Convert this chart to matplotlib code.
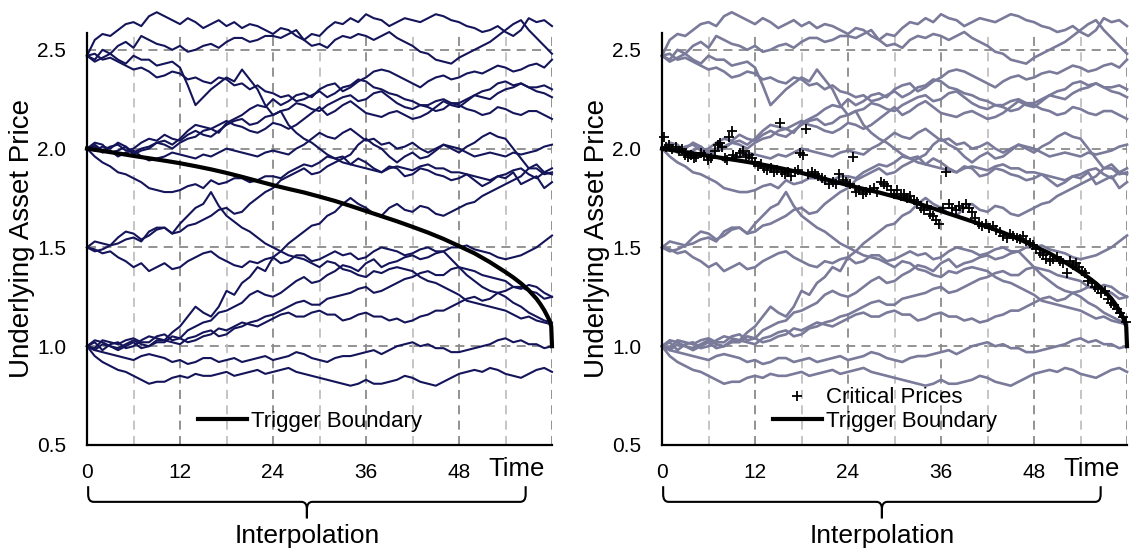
import matplotlib
matplotlib.use("Agg")
import matplotlib.pyplot as plt
import numpy as np
from matplotlib.path import Path
from matplotlib.patches import PathPatch

plt.rcParams['font.family'] = ['Liberation Sans', 'DejaVu Sans']

# ---------------- data (monthly values, t = 0..60) ----------------
P1 = [2.47, 2.55, 2.58, 2.57, 2.60, 2.63, 2.64, 2.62, 2.67, 2.69, 2.67, 2.65, 2.63, 2.66, 2.64, 2.61, 2.63, 2.65, 2.62, 2.64, 2.61, 2.63, 2.62, 2.60, 2.58, 2.61, 2.60, 2.57, 2.55, 2.58, 2.57, 2.61, 2.64, 2.63, 2.66, 2.64, 2.68, 2.66, 2.65, 2.62, 2.64, 2.66, 2.65, 2.64, 2.66, 2.68, 2.67, 2.65, 2.64, 2.62, 2.61, 2.59, 2.60, 2.62, 2.59, 2.57, 2.60, 2.66, 2.64, 2.65, 2.62]
P2 = [2.47, 2.45, 2.50, 2.48, 2.52, 2.54, 2.51, 2.57, 2.55, 2.53, 2.52, 2.50, 2.52, 2.49, 2.50, 2.52, 2.53, 2.51, 2.54, 2.56, 2.56, 2.54, 2.55, 2.57, 2.57, 2.56, 2.58, 2.60, 2.55, 2.52, 2.53, 2.51, 2.55, 2.57, 2.56, 2.58, 2.57, 2.55, 2.57, 2.59, 2.56, 2.54, 2.52, 2.49, 2.48, 2.45, 2.44, 2.43, 2.46, 2.48, 2.50, 2.52, 2.54, 2.57, 2.60, 2.63, 2.65, 2.60, 2.56, 2.52, 2.48]
P3 = [2.47, 2.44, 2.46, 2.48, 2.45, 2.43, 2.47, 2.45, 2.45, 2.42, 2.43, 2.44, 2.41, 2.32, 2.22, 2.26, 2.30, 2.33, 2.36, 2.34, 2.40, 2.35, 2.30, 2.22, 2.17, 2.19, 2.12, 2.08, 2.05, 2.03, 2.00, 1.97, 1.95, 1.96, 1.92, 1.95, 1.93, 1.90, 1.88, 1.91, 1.90, 1.86, 1.87, 1.90, 1.89, 1.87, 1.86, 1.84, 1.85, 1.87, 1.84, 1.81, 1.83, 1.86, 1.85, 1.88, 1.82, 1.84, 1.86, 1.80, 1.83]
P4 = [2.47, 2.48, 2.45, 2.46, 2.44, 2.42, 2.40, 2.41, 2.39, 2.36, 2.37, 2.39, 2.38, 2.35, 2.36, 2.34, 2.33, 2.36, 2.35, 2.32, 2.33, 2.30, 2.32, 2.29, 2.28, 2.26, 2.27, 2.24, 2.25, 2.27, 2.29, 2.26, 2.28, 2.31, 2.32, 2.35, 2.34, 2.31, 2.30, 2.28, 2.27, 2.25, 2.24, 2.22, 2.21, 2.19, 2.20, 2.23, 2.22, 2.20, 2.19, 2.17, 2.18, 2.21, 2.20, 2.18, 2.17, 2.19, 2.19, 2.17, 2.15]
P5 = [2.00, 2.03, 2.02, 1.98, 1.99, 2.01, 1.97, 1.99, 2.00, 2.03, 2.02, 2.00, 2.03, 2.05, 2.06, 2.09, 2.10, 2.08, 2.13, 2.15, 2.17, 2.20, 2.22, 2.21, 2.25, 2.22, 2.24, 2.27, 2.28, 2.26, 2.30, 2.32, 2.33, 2.29, 2.31, 2.34, 2.36, 2.39, 2.40, 2.39, 2.37, 2.35, 2.33, 2.31, 2.34, 2.36, 2.37, 2.35, 2.36, 2.38, 2.39, 2.38, 2.40, 2.42, 2.41, 2.39, 2.40, 2.42, 2.43, 2.41, 2.45]
P6 = [2.00, 1.99, 2.01, 2.00, 2.03, 2.01, 1.98, 2.00, 2.01, 2.03, 2.04, 2.02, 2.05, 2.09, 2.12, 2.11, 2.10, 2.12, 2.14, 2.12, 2.11, 2.09, 2.08, 2.10, 2.13, 2.12, 2.10, 2.12, 2.15, 2.18, 2.21, 2.17, 2.19, 2.22, 2.24, 2.21, 2.18, 2.17, 2.16, 2.18, 2.19, 2.17, 2.15, 2.16, 2.18, 2.21, 2.24, 2.22, 2.21, 2.24, 2.27, 2.26, 2.25, 2.28, 2.30, 2.31, 2.33, 2.31, 2.29, 2.28, 2.26]
P7 = [2.00, 2.01, 1.98, 1.99, 1.96, 1.98, 1.99, 1.96, 1.94, 1.95, 1.96, 1.98, 1.97, 1.96, 1.95, 1.97, 1.96, 1.98, 2.00, 1.99, 1.98, 1.97, 1.96, 1.98, 1.99, 1.98, 1.97, 2.00, 2.02, 2.05, 2.08, 2.06, 2.05, 2.08, 2.10, 2.07, 2.04, 2.05, 2.02, 2.03, 2.00, 2.01, 2.03, 2.00, 1.98, 2.00, 2.02, 2.01, 2.00, 1.98, 1.96, 1.97, 1.98, 1.97, 1.96, 1.98, 1.97, 1.98, 1.99, 2.01, 2.02]
P8 = [2.00, 1.96, 1.93, 1.91, 1.88, 1.87, 1.85, 1.83, 1.80, 1.79, 1.78, 1.78, 1.79, 1.81, 1.82, 1.80, 1.84, 1.82, 1.83, 1.85, 1.85, 1.83, 1.84, 1.86, 1.86, 1.85, 1.88, 1.90, 1.92, 1.91, 1.93, 1.96, 1.95, 1.93, 1.92, 1.91, 1.90, 1.89, 1.88, 1.90, 1.91, 1.90, 1.89, 1.91, 1.92, 1.90, 1.90, 1.88, 1.88, 1.87, 1.86, 1.85, 1.84, 1.86, 1.87, 1.89, 1.90, 1.87, 1.85, 1.88, 1.87]
P9 = [2.00, 2.02, 1.99, 2.01, 2.02, 1.99, 2.00, 2.03, 2.05, 2.04, 2.07, 2.05, 2.04, 2.07, 2.09, 2.07, 2.06, 2.09, 2.12, 2.14, 2.15, 2.12, 2.13, 2.16, 2.17, 2.19, 2.20, 2.23, 2.22, 2.20, 2.19, 2.22, 2.24, 2.26, 2.27, 2.24, 2.25, 2.28, 2.29, 2.26, 2.23, 2.21, 2.20, 2.22, 2.22, 2.24, 2.25, 2.23, 2.23, 2.25, 2.27, 2.29, 2.30, 2.33, 2.34, 2.32, 2.33, 2.31, 2.31, 2.32, 2.30]
P10 = [1.50, 1.48, 1.49, 1.51, 1.52, 1.54, 1.55, 1.53, 1.58, 1.60, 1.60, 1.57, 1.62, 1.66, 1.70, 1.72, 1.78, 1.71, 1.66, 1.63, 1.60, 1.58, 1.55, 1.52, 1.50, 1.48, 1.46, 1.45, 1.44, 1.42, 1.40, 1.43, 1.42, 1.39, 1.38, 1.36, 1.35, 1.38, 1.37, 1.39, 1.40, 1.39, 1.38, 1.35, 1.33, 1.32, 1.30, 1.28, 1.26, 1.23, 1.22, 1.21, 1.20, 1.19, 1.18, 1.16, 1.14, 1.15, 1.13, 1.12, 1.11]
P11 = [1.50, 1.53, 1.52, 1.51, 1.55, 1.58, 1.57, 1.54, 1.56, 1.59, 1.60, 1.57, 1.58, 1.61, 1.62, 1.64, 1.66, 1.69, 1.70, 1.67, 1.68, 1.72, 1.75, 1.78, 1.80, 1.84, 1.86, 1.88, 1.90, 1.87, 1.88, 1.91, 1.93, 1.95, 1.97, 2.02, 2.05, 2.02, 2.00, 1.96, 1.93, 1.96, 1.98, 1.95, 1.96, 1.99, 2.02, 2.00, 1.98, 2.01, 2.03, 2.06, 2.08, 2.06, 2.05, 2.00, 1.95, 1.90, 1.90, 1.87, 1.88]
P12 = [1.50, 1.49, 1.47, 1.48, 1.45, 1.43, 1.40, 1.42, 1.38, 1.40, 1.42, 1.39, 1.40, 1.43, 1.45, 1.47, 1.48, 1.45, 1.43, 1.41, 1.40, 1.43, 1.42, 1.44, 1.45, 1.42, 1.43, 1.46, 1.46, 1.43, 1.44, 1.46, 1.48, 1.46, 1.47, 1.44, 1.45, 1.48, 1.50, 1.49, 1.48, 1.46, 1.47, 1.49, 1.50, 1.48, 1.48, 1.50, 1.50, 1.51, 1.49, 1.48, 1.47, 1.45, 1.44, 1.45, 1.46, 1.48, 1.50, 1.53, 1.56]
P13 = [1.00, 1.02, 0.98, 1.01, 1.02, 0.99, 1.00, 1.03, 1.05, 1.04, 1.03, 1.07, 1.10, 1.15, 1.20, 1.17, 1.15, 1.20, 1.28, 1.26, 1.32, 1.35, 1.40, 1.38, 1.45, 1.48, 1.52, 1.55, 1.58, 1.61, 1.62, 1.66, 1.68, 1.72, 1.75, 1.72, 1.70, 1.67, 1.66, 1.70, 1.72, 1.69, 1.68, 1.71, 1.70, 1.67, 1.66, 1.68, 1.70, 1.72, 1.73, 1.76, 1.78, 1.80, 1.82, 1.84, 1.86, 1.90, 1.92, 1.88, 1.90]
P14 = [1.00, 1.03, 1.02, 1.00, 0.99, 1.01, 1.03, 1.01, 1.00, 1.02, 1.02, 1.05, 1.04, 1.02, 1.03, 1.05, 1.06, 1.09, 1.08, 1.10, 1.12, 1.11, 1.10, 1.12, 1.14, 1.16, 1.17, 1.15, 1.15, 1.17, 1.18, 1.16, 1.16, 1.13, 1.14, 1.16, 1.17, 1.15, 1.15, 1.13, 1.14, 1.12, 1.13, 1.15, 1.16, 1.18, 1.18, 1.20, 1.22, 1.24, 1.25, 1.23, 1.24, 1.27, 1.28, 1.30, 1.30, 1.28, 1.27, 1.24, 1.25]
P15 = [1.00, 0.99, 1.03, 1.02, 1.01, 1.03, 1.04, 1.02, 1.02, 1.05, 1.06, 1.03, 1.04, 1.08, 1.10, 1.12, 1.13, 1.17, 1.18, 1.20, 1.22, 1.26, 1.28, 1.26, 1.25, 1.27, 1.30, 1.33, 1.35, 1.32, 1.33, 1.36, 1.38, 1.41, 1.40, 1.38, 1.42, 1.44, 1.40, 1.42, 1.43, 1.45, 1.46, 1.44, 1.45, 1.47, 1.48, 1.44, 1.40, 1.36, 1.33, 1.30, 1.28, 1.27, 1.25, 1.22, 1.20, 1.17, 1.15, 1.13, 1.12]
P16 = [1.00, 0.98, 0.97, 0.96, 0.95, 0.94, 0.93, 0.95, 0.96, 0.95, 0.94, 0.92, 0.93, 0.91, 0.92, 0.94, 0.94, 0.92, 0.93, 0.94, 0.92, 0.93, 0.94, 0.95, 0.93, 0.94, 0.95, 0.97, 0.96, 0.94, 0.93, 0.92, 0.94, 0.95, 0.95, 0.96, 0.97, 0.98, 0.96, 0.98, 1.00, 1.01, 1.02, 1.00, 1.01, 0.99, 0.99, 0.97, 0.97, 0.98, 0.99, 1.00, 1.01, 1.03, 1.04, 1.02, 1.03, 1.01, 1.01, 0.99, 1.00]
P17 = [1.00, 0.95, 0.92, 0.90, 0.88, 0.87, 0.85, 0.83, 0.81, 0.82, 0.82, 0.84, 0.85, 0.84, 0.86, 0.85, 0.85, 0.86, 0.87, 0.85, 0.86, 0.87, 0.88, 0.86, 0.87, 0.88, 0.89, 0.87, 0.86, 0.85, 0.84, 0.83, 0.82, 0.81, 0.80, 0.81, 0.83, 0.81, 0.81, 0.82, 0.83, 0.85, 0.84, 0.82, 0.81, 0.80, 0.82, 0.84, 0.86, 0.87, 0.88, 0.87, 0.89, 0.88, 0.86, 0.85, 0.84, 0.86, 0.88, 0.89, 0.87]
P18 = [1.00, 0.98, 1.01, 1.00, 0.98, 1.00, 1.02, 0.99, 1.00, 1.03, 1.03, 1.02, 1.01, 1.04, 1.05, 1.07, 1.08, 1.05, 1.06, 1.09, 1.10, 1.12, 1.13, 1.15, 1.16, 1.18, 1.20, 1.22, 1.23, 1.21, 1.21, 1.24, 1.25, 1.26, 1.27, 1.29, 1.30, 1.27, 1.28, 1.30, 1.32, 1.34, 1.35, 1.37, 1.38, 1.36, 1.36, 1.39, 1.40, 1.39, 1.38, 1.36, 1.35, 1.34, 1.33, 1.30, 1.29, 1.31, 1.30, 1.27, 1.25]

paths = [P1, P2, P3, P4, P5, P6, P7, P8, P9, P10, P11, P12, P13, P14, P15, P16, P17, P18]

bound_t = [0, 2, 4, 6, 8, 10, 12, 14, 16, 18, 20, 22, 24, 26, 28, 30, 32, 34, 36, 38, 40, 42, 44, 46, 48, 50,
           52, 53, 54, 55, 56, 57, 58, 58.5, 59, 59.4, 59.7, 59.9, 60]
bound_v = [2.000, 1.988, 1.976, 1.963, 1.951, 1.939, 1.926, 1.911, 1.895, 1.877, 1.857, 1.836, 1.815, 1.796, 1.778,
           1.757, 1.735, 1.710, 1.684, 1.658, 1.632, 1.604, 1.575, 1.543, 1.507, 1.470, 1.425, 1.400, 1.375, 1.348,
           1.318, 1.283, 1.240, 1.213, 1.182, 1.152, 1.128, 1.100, 1.000]

crit_t = [0.2, 0.5, 0.9, 1.3, 1.8, 2.2, 2.6, 3.0, 3.3, 3.7, 4.1, 4.4, 5.0, 5.4, 5.9, 6.3, 6.8, 7.2, 7.5, 7.8,
          8.1, 8.4, 8.7, 9.0, 9.2, 9.6, 10.0, 10.4, 10.8, 11.2, 11.6, 12.0, 12.4, 12.8, 13.2, 13.6, 14.0, 14.4, 14.8, 15.2,
          15.5, 15.9, 16.3, 16.7, 17.1, 17.5, 17.8, 18.2, 18.6, 18.9, 19.3, 19.7, 20.1, 20.6, 21.0, 21.5, 22.0, 22.4, 22.9, 23.3,
          23.8, 24.2, 24.6, 25.0, 25.4, 25.9, 26.3, 26.8, 27.3, 27.7, 28.2, 28.6, 29.0, 29.5, 29.9, 30.3, 30.8, 31.2, 31.6, 32.0,
          32.5, 32.9, 33.4, 33.8, 34.2, 34.6, 35.0, 35.4, 35.8, 36.2, 36.6, 37.0, 37.4, 37.9, 38.3, 38.8, 39.2, 39.6, 40.0, 40.4,
          40.9, 41.3, 41.8, 42.2, 42.7, 43.1, 43.6, 44.0, 44.5, 44.9, 45.3, 45.8, 46.2, 46.6, 47.0, 47.5, 47.9, 48.3, 48.8, 49.2,
          49.6, 50.1, 50.5, 51.0, 51.4, 51.8, 52.2, 52.6, 53.0, 53.4, 53.8, 54.2, 54.6, 55.0, 55.5, 55.9, 56.3, 56.7, 57.1, 57.5,
          57.9, 58.3, 58.7, 59.1, 59.5, 59.9]
crit_v = [2.06, 2.01, 2.02, 2.00, 2.01, 1.99, 2.00, 1.97, 1.96, 1.97, 1.95, 1.96, 1.98, 1.97, 1.94, 1.95, 1.99, 2.02, 2.03, 2.01,
          1.95, 1.94, 2.06, 2.09, 1.97, 1.96, 1.98, 1.99, 1.96, 1.97, 1.95, 1.93, 1.91, 1.92, 1.90, 1.89, 1.90, 1.88, 1.89, 2.13,
          1.88, 1.87, 1.88, 1.86, 1.88, 1.89, 1.98, 1.97, 2.10, 1.87, 1.88, 1.87, 1.86, 1.85, 1.84, 1.82, 1.83, 1.82, 1.87, 1.84,
          1.83, 1.82, 1.96, 1.78, 1.79, 1.77, 1.78, 1.79, 1.80, 1.78, 1.83, 1.82, 1.81, 1.79, 1.77, 1.79, 1.76, 1.77, 1.75, 1.76,
          1.74, 1.73, 1.70, 1.69, 1.71, 1.67, 1.66, 1.64, 1.62, 1.70, 1.88, 1.72, 1.70, 1.69, 1.71, 1.70, 1.72, 1.70, 1.68, 1.65,
          1.62, 1.61, 1.62, 1.60, 1.61, 1.59, 1.58, 1.56, 1.55, 1.57, 1.56, 1.55, 1.54, 1.56, 1.53, 1.52, 1.51, 1.49, 1.47, 1.46,
          1.44, 1.43, 1.44, 1.45, 1.43, 1.42, 1.37, 1.43, 1.41, 1.42, 1.40, 1.38, 1.37, 1.33, 1.32, 1.30, 1.29, 1.27, 1.28, 1.24,
          1.22, 1.21, 1.19, 1.17, 1.15, 1.12]

x_ticks = [0, 12, 24, 36, 48]
y_ticks = [0.5, 1.0, 1.5, 2.0, 2.5]

# ---------------- figure ----------------
fig = plt.figure(figsize=(11.47, 5.52), dpi=100)
W, H = 1147, 552
ax_h = (445 - 33) / H
axL = fig.add_axes([87 / W, (H - 445) / H, 465 / W, ax_h])
axR = fig.add_axes([662 / W, (H - 445) / H, 465 / W, ax_h])

grid_major = '#8a8a8a'
grid_minor = '#c0c0c0'


def setup(ax):
    ax.set_xlim(0, 60)
    ax.set_ylim(0.5, 2.585)
    for s in ['top', 'right']:
        ax.spines[s].set_visible(False)
    for s in ['left', 'bottom']:
        ax.spines[s].set_linewidth(1.6)
        ax.spines[s].set_color('black')
        ax.spines[s].set_zorder(5)
    ax.set_xticks(x_ticks)
    ax.set_xticklabels([str(v) for v in x_ticks])
    ax.set_yticks(y_ticks)
    ax.set_yticklabels(['%.1f' % v for v in y_ticks])
    ax.tick_params(axis='both', length=0, labelsize=15)
    ax.tick_params(axis='x', pad=13)
    ax.tick_params(axis='y', pad=15)
    for yv in [1.0, 1.5, 2.0, 2.5]:
        ax.axhline(yv, color=grid_major, lw=1.3, ls=(0, (5, 3.5)), zorder=0)
    for xv in [12, 24, 36, 48, 60]:
        ax.axvline(xv, color=grid_major, lw=1.3, ls=(0, (5, 3.5)), zorder=0)
    for xv in [6, 18, 30, 42, 54]:
        ax.axvline(xv, color=grid_minor, lw=1.3, ls=(0, (5, 3.5)), zorder=0)
    ax.text(-0.14, (445 - 238) / 412, 'Underlying Asset Price', transform=ax.transAxes,
            rotation=90, ha='center', va='center', fontsize=20)
    ax.text(55.4, -0.058, 'Time', transform=ax.get_xaxis_transform(),
            ha='center', va='center', fontsize=18.5)
    # brace
    tr = ax.get_xaxis_transform()
    x0, x1 = 0.15, 56.6
    xm = (x0 + x1) / 2
    ya, yl, yt = -0.100, -0.138, -0.178
    rx, ry = 0.7, 0.018
    left = Path([(x0, ya), (x0, yl + ry), (x0, yl), (x0 + rx, yl), (xm - rx, yl), (xm, yl), (xm, yl - ry), (xm, yt)],
                [Path.MOVETO, Path.LINETO, Path.CURVE3, Path.CURVE3, Path.LINETO, Path.CURVE3, Path.CURVE3, Path.LINETO])
    right = Path([(x1, ya), (x1, yl + ry), (x1, yl), (x1 - rx, yl), (xm + rx, yl), (xm, yl), (xm, yl - ry), (xm, yt)],
                 [Path.MOVETO, Path.LINETO, Path.CURVE3, Path.CURVE3, Path.LINETO, Path.CURVE3, Path.CURVE3, Path.LINETO])
    for p in (left, right):
        ax.add_patch(PathPatch(p, transform=tr, fill=False, lw=1.5, ec='black', clip_on=False))
    ax.text(xm, -0.222, 'Interpolation', transform=tr, ha='center', va='center', fontsize=19)


setup(axL)
setup(axR)

# left panel
for p in paths:
    axL.plot(np.linspace(0, 60, len(p)), p, color='#14145a', lw=1.5, clip_on=False, zorder=2)
axL.plot(bound_t, bound_v, color='black', lw=3.0, zorder=4, label='Trigger Boundary', clip_on=False)
axL.legend(loc='lower center', bbox_to_anchor=(0.48, 0.0), frameon=False, fontsize=16,
           handlelength=2.2, handletextpad=0.2, borderaxespad=0.2)

# right panel
for p in paths:
    axR.plot(np.linspace(0, 60, len(p)), p, color='#7a7a9a', lw=1.9, clip_on=False, zorder=2)
axR.plot(crit_t, crit_v, ls='none', marker='+', color='black', ms=7, mew=1.3, zorder=3,
         label='Critical Prices', clip_on=False)
axR.plot(bound_t, bound_v, color='black', lw=3.0, zorder=4, label='Trigger Boundary', clip_on=False)
axR.legend(loc='lower center', bbox_to_anchor=(0.48, 0.0), frameon=False, fontsize=16,
           handlelength=2.2, handletextpad=0.2, borderaxespad=0.2, labelspacing=0.1)

fig.savefig('out.png', dpi=100)
